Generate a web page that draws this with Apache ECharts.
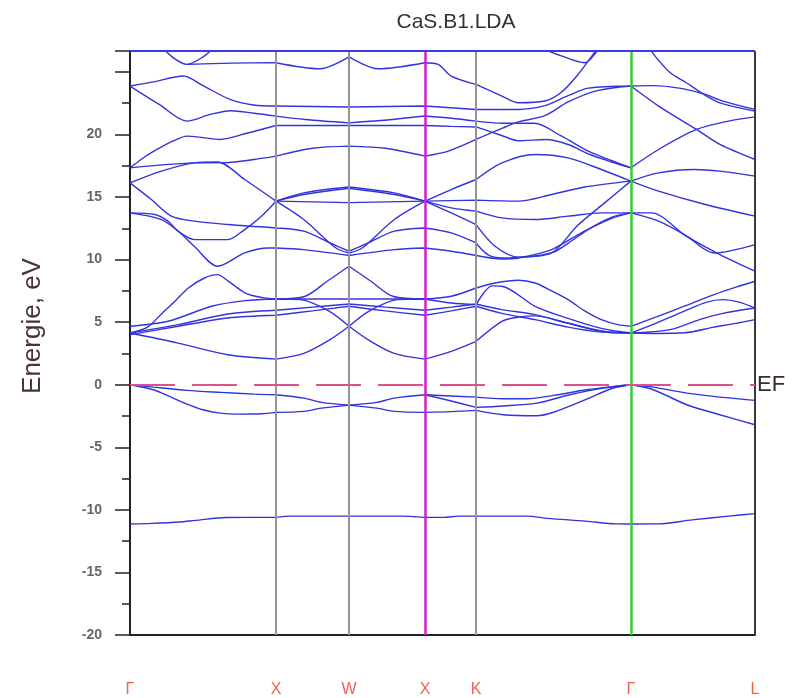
<!DOCTYPE html>
<html>
<head>
<meta charset="utf-8">
<title>CaS.B1.LDA</title>
<script src="https://cdn.jsdelivr.net/npm/echarts@6/dist/echarts.min.js"></script>
<style>
  html, body { margin: 0; padding: 0; background: #ffffff; }
  #chart { width: 797px; height: 698px; }
</style>
</head>
<body>
<div id="chart"></div>
<script>
// k-path: high-symmetry points and their labels
const kPos = [0, 1, 1.5, 2.02, 2.37, 3.43, 4.2802];
const kLabels = ['Γ', 'X', 'W', 'X', 'K', 'Γ', 'L'];
const yTickLabels = [-20, -15, -10, -5, 0, 5, 10, 15, 20];
const eMin = -20;
const eMax = 26.67;
const fermiLevel = 0;

// S 3s band
const sBand = [[0,-11.13],[0.15,-11.08],[0.34,-10.97],[0.45,-10.84],[0.66,-10.61],[1,-10.6],[1.1,-10.5],[1.5,-10.5],[1.85,-10.5],[2.02,-10.6],[2.15,-10.6],[2.25,-10.5],[2.37,-10.5],[2.72,-10.5],[2.86,-10.68],[3.12,-10.9],[3.33,-11.12],[3.43,-11.13],[3.62,-11.12],[3.85,-10.8],[4.1,-10.5],[4.28,-10.3]];

// S 3p valence bands
const vBand1 = [[0,0],[0.16,-0.19],[0.39,-0.45],[0.62,-0.61],[0.85,-0.75],[1,-0.8],[1.19,-1.07],[1.31,-1.41],[1.5,-1.63],[1.69,-1.41],[1.81,-1.07],[2.02,-0.8],[2.2,-0.9],[2.37,-0.99],[2.557,-1.12],[2.72,-1.12],[2.9,-0.85],[3.128,-0.4],[3.356,-0.08],[3.43,0],[3.584,-0.19],[3.813,-0.67],[4.04,-0.99],[4.28,-1.25]];
const vBand2 = [[0,0],[0.16,-0.4],[0.27,-0.93],[0.39,-1.55],[0.5,-2.0],[0.616,-2.27],[0.73,-2.35],[0.9,-2.32],[1,-2.21],[1.19,-2.13],[1.31,-1.87],[1.5,-1.63],[1.69,-1.87],[1.81,-2.13],[2.02,-2.21],[2.2,-2.15],[2.37,-2.05],[2.557,-2.4],[2.785,-2.48],[2.9,-2.2],[3.128,-1.15],[3.3,-0.3],[3.43,0],[3.584,-0.4],[3.813,-1.6],[4.04,-2.4],[4.28,-3.2]];
const vBand3 = [[2.02,-0.8],[2.2,-1.3],[2.37,-1.81],[2.557,-1.7],[2.785,-1.47],[3.014,-0.8],[3.242,-0.27],[3.43,0]];

// lower conduction bands (Ca 3d / 4s)
const cBand1 = [[0,4.13],[0.33,3.33],[0.67,2.4],[1,2.05],[1.19,2.5],[1.37,3.6],[1.5,4.67],[1.63,3.6],[1.81,2.5],[2.02,2.05],[2.2,2.67],[2.37,3.47],[2.547,5.07],[2.66,5.4],[2.774,5.5],[3.0,4.93],[3.228,4.27],[3.43,4.13],[3.6,4.1],[3.8,4.15],[4.0,4.6],[4.15,4.9],[4.28,5.2]];
const cBand2 = [[0,4.67],[0.26,5.07],[0.56,6.27],[0.79,6.72],[1,6.85],[1.17,6.8],[1.36,5.9],[1.5,4.67],[1.64,5.9],[1.83,6.8],[2.02,6.85],[2.2,6.53],[2.37,6.4],[2.48,7.9],[2.547,7.87],[2.774,6.27],[3.0,5.3],[3.228,4.5],[3.43,4.13],[3.7,4.4],[3.9,5.2],[4.06,5.7],[4.28,6.13]];
const cBand3 = [[0,4.13],[0.12,4.6],[0.21,5.6],[0.31,6.7],[0.4,7.73],[0.51,8.53],[0.6,8.8],[0.67,8.3],[0.79,7.33],[0.9,6.98],[1,6.85],[1.2,7.07],[1.35,8.27],[1.5,9.47],[1.65,8.27],[1.8,7.07],[2.02,6.85],[2.2,7.07],[2.37,7.73],[2.5,8.13],[2.66,8.35],[2.774,8.13],[2.887,7.5],[3.0,6.8],[3.114,5.9],[3.228,5.2],[3.341,4.8],[3.43,4.67],[3.6,5.4],[3.8,6.3],[4.0,7.2],[4.15,7.8],[4.28,8.27]];
const cBand4 = [[0,4.13],[0.33,4.8],[0.67,5.65],[1,5.95],[1.25,6.2],[1.5,6.45],[1.75,6.2],[2.02,5.95],[2.2,6.2],[2.37,6.45],[2.547,6.0],[2.774,5.6],[3.0,4.9],[3.228,4.3],[3.43,4.13],[3.6,4.9],[3.8,5.9],[3.95,6.6],[4.06,6.8],[4.17,6.6],[4.28,6.13]];
const cBand5 = [[0,4.0],[0.33,4.67],[0.67,5.33],[1,5.55],[1.25,5.9],[1.5,6.27],[1.75,5.9],[2.02,5.55],[2.2,5.9],[2.37,6.27],[2.547,5.7],[2.774,5.2],[3.0,4.6],[3.228,4.2],[3.43,4.13]];
const cFlat = [[1,6.85],[1.5,6.85],[2.02,6.85]];

// middle conduction bands
const mBand1 = [[0,13.73],[0.215,13.2],[0.33,12.27],[0.44,11.07],[0.6,9.47],[0.785,10.53],[0.945,10.93],[1,10.93],[1.19,10.8],[1.5,10.33],[1.81,10.8],[2.02,10.93],[2.2,10.67],[2.37,10.33],[2.547,10.05],[2.66,10.13],[2.887,10.8],[3.1,12.2],[3.3,13.3],[3.43,13.73],[3.57,13.73],[3.81,11.87],[4.04,10.4],[4.28,9.07]];
const mBand2 = [[0,16.13],[0.146,14.8],[0.283,13.47],[0.44,13.07],[0.67,12.8],[1,12.53],[1.19,12.27],[1.37,11.33],[1.5,10.67],[1.63,11.33],[1.81,12.27],[2.02,12.53],[2.2,12.13],[2.37,11.33],[2.45,10.4],[2.547,10.13],[2.774,10.3],[2.9,10.6],[3.0,11.3],[3.15,12.5],[3.3,13.4],[3.43,13.73],[3.62,13.07],[3.81,11.9],[4.0,10.53],[4.28,11.2]];
const mBand3 = [[0,13.73],[0.17,13.6],[0.26,13.07],[0.33,12.27],[0.44,11.6],[0.67,11.6],[0.785,12.4],[0.9,13.47],[1,14.67],[1.19,13.2],[1.41,10.93],[1.5,10.53],[1.59,10.93],[1.81,13.2],[2.02,14.67],[2.2,13.73],[2.37,12.8],[2.5,11.07],[2.66,10.2],[2.887,10.53],[3.06,12.67],[3.25,14.53],[3.43,16.27],[3.62,15.47],[3.94,14.4],[4.28,13.47]];
const mBand4 = [[0,16.13],[0.215,17.07],[0.44,17.73],[0.6,17.8],[0.785,16.4],[1,14.67],[1.19,15.33],[1.5,15.8],[1.81,15.33],[2.02,14.67],[2.2,15.6],[2.37,16.4],[2.547,17.73],[2.774,18.4],[3.0,18.13],[3.228,17.2],[3.43,16.27],[3.62,16.93],[3.86,17.2],[4.04,17.07],[4.28,16.67]];
const mBand5 = [[1,14.67],[1.5,14.55],[2.02,14.67],[2.37,14.75],[2.66,14.67],[2.887,15.2],[3.114,15.8],[3.43,16.27]];
const mBand6 = [[1,14.67],[1.19,15.2],[1.5,15.7],[1.81,15.2],[2.02,14.67],[2.2,14.13],[2.37,13.87],[2.547,13.33],[2.774,13.2],[3.0,13.47],[3.228,13.73],[3.43,13.73]];

// upper conduction bands
const uBand1 = [[0,17.33],[0.2,17.55],[0.44,17.73],[0.65,17.75],[0.85,18.0],[1,18.27],[1.25,18.9],[1.5,19.07],[1.75,18.9],[2.02,18.27],[2.18,18.67],[2.37,19.6],[2.55,20.5],[2.66,21.0],[2.84,21.5],[3.0,22.6],[3.2,23.5],[3.43,23.87],[3.62,22.27],[3.88,20.4],[4.04,19.2],[4.28,18.0]];
const uBand2 = [[0,17.33],[0.1,18.2],[0.2,18.9],[0.3,19.5],[0.39,19.87],[0.5,19.75],[0.616,19.6],[0.8,20.1],[1,20.72],[1.5,20.72],[2.02,20.72],[2.2,20.65],[2.37,20.6],[2.55,19.9],[2.66,19.5],[2.85,19.6],[3.0,19.2],[3.15,18.4],[3.3,17.8],[3.43,17.33],[3.62,18.8],[3.88,20.4],[4.1,21.07],[4.28,21.41]];
const uBand3 = [[0,23.87],[0.2,22.4],[0.39,21.07],[0.55,21.6],[0.69,21.9],[0.85,21.7],[1,21.47],[1.2,21.2],[1.5,20.93],[1.8,21.2],[2.02,21.47],[2.2,21.3],[2.37,21.07],[2.55,20.9],[2.77,20.9],[2.95,19.9],[3.15,18.6],[3.3,17.9],[3.43,17.33]];
const uBand4 = [[0,23.87],[0.16,24.2],[0.365,24.67],[0.5,23.9],[0.685,22.8],[0.845,22.35],[1,22.27],[1.5,22.2],[2.02,22.27],[2.37,22.0],[2.66,22.0],[2.84,22.3],[3.0,23.1],[3.14,23.7],[3.43,23.87],[3.58,23.9],[3.76,23.7],[3.94,23.2],[4.06,22.67],[4.28,22.0]];
const uBand5 = [[0.39,25.6],[0.7,25.7],[1,25.73],[1.3,25.25],[1.5,26.2],[1.7,25.25],[2.02,25.73],[2.11,25.6],[2.2,24.67],[2.37,24.0],[2.547,23.07],[2.66,22.53],[2.84,22.67],[2.95,23.33],[3.06,24.67],[3.19,26.67],[3.25,27.5]];
const uBand6 = [[0.2,27.2],[0.3,26.1],[0.39,25.6],[0.5,26.2],[0.6,27.2]];
const uBand7 = [[2.75,27.2],[2.95,26.3],[3.114,25.73],[3.2,26.67],[3.25,27.5]];
const uBand8 = [[3.54,27.2],[3.6,26.2],[3.7,24.93],[3.81,24.13],[3.93,23.2],[4.04,22.53],[4.28,21.87]];

const bands = [sBand, vBand1, vBand2, vBand3, cBand1, cBand2, cBand3, cBand4, cBand5, cFlat,
  mBand1, mBand2, mBand3, mBand4, mBand5, mBand6,
  uBand1, uBand2, uBand3, uBand4, uBand5, uBand6, uBand7, uBand8];

const bandColor = '#3333dd';
const fontFamily = '"Liberation Sans", Arial, sans-serif';

// break each band at the high-symmetry points so each path segment is smoothed on its own
function segmentData(band) {
  const out = [];
  band.forEach((p, i) => {
    out.push(p);
    const atSym = kPos.some(s => Math.abs(s - p[0]) < 0.005);
    if (atSym && i > 0 && i < band.length - 1) {
      out.push([p[0], '-']);
      out.push(p);
    }
  });
  return out;
}

const bandSeries = bands.map(b => ({
  type: 'line',
  data: segmentData(b),
  smooth: 0.3,
  connectNulls: false,
  symbol: 'none',
  showSymbol: false,
  silent: true,
  animation: false,
  z: 3,
  lineStyle: { color: bandColor, width: 1.4 }
}));

const vLine = (x, color, width) => ({ xAxis: x, lineStyle: { color: color, width: width, type: 'solid' } });

const guideSeries = {
  type: 'line',
  data: [],
  silent: true,
  animation: false,
  z: 1,
  markLine: {
    silent: true,
    animation: false,
    symbol: ['none', 'none'],
    label: { show: false },
    data: [
      vLine(kPos[1], '#959595', 2),
      vLine(kPos[2], '#959595', 2),
      vLine(kPos[3], '#cc22cc', 2.5),
      vLine(kPos[4], '#959595', 2),
      vLine(kPos[5], '#33cc33', 2.5),
      vLine(kPos[6], '#3a3a3a', 2),
      { yAxis: eMax, lineStyle: { color: '#3a3ae0', width: 2, type: 'solid' } },
      {
        yAxis: fermiLevel,
        lineStyle: { color: '#e0508a', width: 2, type: [45, 17] },
        label: {
          show: true, position: 'end', formatter: 'EF', distance: 2,
          color: '#3a2a2a', fontSize: 22, fontFamily: fontFamily
        }
      }
    ]
  }
};

const chart = echarts.init(document.getElementById('chart'), null, { renderer: 'canvas' });
chart.setOption({
  backgroundColor: '#ffffff',
  animation: false,
  grid: { left: 130, right: 42, top: 51, bottom: 62 },
  xAxis: {
    type: 'value',
    min: kPos[0],
    max: kPos[kPos.length - 1],
    splitLine: { show: false },
    axisLine: { show: true, onZero: false, lineStyle: { color: '#222', width: 2 } },
    axisTick: { show: false },
    axisLabel: {
      customValues: kPos,
      formatter: function (v) {
        const i = kPos.findIndex(p => Math.abs(p - v) < 1e-6);
        return i >= 0 ? kLabels[i] : '';
      },
      color: '#f06050',
      fontSize: 16,
      fontFamily: fontFamily,
      margin: 47,
      showMinLabel: true,
      showMaxLabel: true
    }
  },
  yAxis: {
    type: 'value',
    min: eMin,
    max: eMax,
    interval: 5,
    splitLine: { show: false },
    axisLine: { show: true, lineStyle: { color: '#222', width: 2 } },
    axisTick: { show: true, inside: false, length: 15, lineStyle: { color: '#222', width: 1.5 } },
    minorTick: { show: true, splitNumber: 2, length: 8, lineStyle: { color: '#222', width: 1.5 } },
    axisLabel: {
      customValues: yTickLabels,
      formatter: v => String(v),
      color: '#666666',
      fontSize: 14,
      fontWeight: 'bold',
      fontFamily: fontFamily,
      margin: 28
    }
  },
  graphic: [
    {
      type: 'text', x: 456, y: 22, silent: true,
      style: { text: 'CaS.B1.LDA', fill: '#333', font: '21px ' + fontFamily, align: 'center', verticalAlign: 'middle' }
    },
    {
      type: 'text', x: 33, y: 326, rotation: Math.PI / 2, silent: true,
      style: { text: 'Energie, eV', fill: '#4a3535', font: '26px ' + fontFamily, align: 'center', verticalAlign: 'middle' }
    }
  ],
  series: [guideSeries].concat(bandSeries)
});
</script>
</body>
</html>
